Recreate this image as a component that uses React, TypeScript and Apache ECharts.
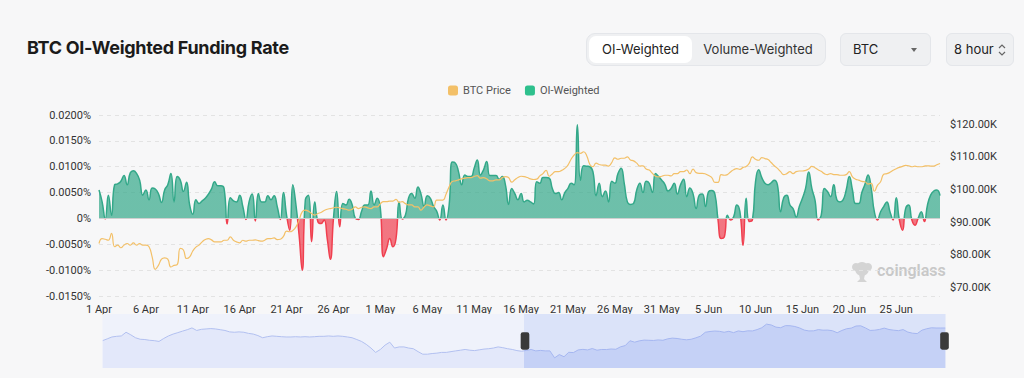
import React, { useEffect, useRef } from 'react';
import * as echarts from 'echarts';

// ---------- data ----------
const START_UTC = Date.UTC(2025, 3, 1); // 1 Apr 2025, 8-hour steps
const PREVIEW_START_UTC = Date.UTC(2025, 0, 1); // dataZoom overview, daily
const MONTHS = ['Jan', 'Feb', 'Mar', 'Apr', 'May', 'Jun', 'Jul', 'Aug', 'Sep', 'Oct', 'Nov', 'Dec'];

// OI-weighted funding rate (%), one value per 8 hours
const fundingRate = [
  0.0055, 0.0032, -0.0001, 0.0045, 0.0006, 0.0065, 0.0067, 0.0072, 0.0083, 0.0065,
  0.0088, 0.0092, 0.0087, 0.0074, 0.0045, 0.0055, 0.0036, 0.0059, 0.0057, 0.0048,
  0.0031, 0.0055, 0.0065, 0.0087, 0.0032, 0.0081, 0.0074, 0.0052, 0.0070, 0.0026,
  0.0008, 0.0036, 0.0029, 0.0034, 0.0039, 0.0047, 0.0057, 0.0071, 0.0063, 0.0063,
  0.0058, -0.0011, 0.0040, 0.0034, 0.0032, 0.0045, 0.0023, -0.0002, 0.0032, 0.0047,
  -0.0005, 0.0048, 0.0032, 0.0032, 0.0044, 0.0036, 0.0044, 0.0023, -0.0002, 0.0050,
  0.0006, -0.0023, 0.0065, 0.0026, -0.0032, -0.0100, 0.0036, 0.0045, -0.0045, 0.0032,
  -0.0006, -0.0010, -0.0003, -0.0039, -0.0079, 0.0000, 0.0052, -0.0016, 0.0029, 0.0026,
  0.0037, 0.0026, 0.0000, -0.0002, 0.0014, 0.0026, 0.0026, 0.0053, 0.0026, 0.0039,
  0.0019, -0.0074, -0.0058, -0.0039, -0.0055, -0.0039, 0.0032, -0.0001, 0.0006, 0.0039,
  0.0048, 0.0039, 0.0061, 0.0047, 0.0023, 0.0044, 0.0039, 0.0023, 0.0014, -0.0003,
  0.0026, -0.0003, 0.0026, 0.0109, 0.0107, 0.0090, 0.0065, 0.0084, 0.0081, 0.0081,
  0.0097, 0.0113, 0.0084, 0.0094, 0.0110, 0.0083, 0.0083, 0.0083, 0.0076, 0.0081,
  0.0065, 0.0027, 0.0058, 0.0048, 0.0036, 0.0048, 0.0032, 0.0035, 0.0032, 0.0028,
  0.0071, 0.0068, 0.0079, 0.0079, 0.0078, 0.0058, 0.0048, 0.0050, 0.0036, 0.0050,
  0.0058, 0.0068, 0.0065, 0.0181, 0.0074, 0.0102, 0.0101, 0.0100, 0.0090, 0.0044,
  0.0068, 0.0042, 0.0053, 0.0032, 0.0072, 0.0068, 0.0087, 0.0097, 0.0068, 0.0032,
  0.0027, 0.0029, 0.0055, 0.0068, 0.0050, 0.0072, 0.0068, 0.0050, 0.0087, 0.0081,
  0.0074, 0.0066, 0.0053, 0.0058, 0.0068, 0.0047, 0.0065, 0.0076, 0.0042, 0.0059,
  0.0048, 0.0019, 0.0045, 0.0047, 0.0023, 0.0052, 0.0054, 0.0047, -0.0003, -0.0039,
  -0.0036, 0.0006, -0.0003, 0.0003, 0.0026, 0.0013, -0.0052, 0.0039, -0.0006, -0.0003,
  0.0071, 0.0094, 0.0079, 0.0068, 0.0065, 0.0069, 0.0074, 0.0065, 0.0013, 0.0040,
  0.0045, 0.0026, 0.0019, 0.0003, 0.0023, 0.0039, 0.0058, 0.0090, 0.0058, 0.0036,
  -0.0003, 0.0006, 0.0058, 0.0052, 0.0042, 0.0065, 0.0036, 0.0032, 0.0036, 0.0055,
  0.0081, 0.0055, 0.0029, 0.0029, 0.0050, 0.0066, 0.0084, 0.0058, 0.0013, -0.0003,
  0.0013, 0.0023, 0.0032, 0.0013, -0.0003, 0.0040, -0.0003, -0.0023, 0.0019, 0.0026,
  -0.0003, -0.0013, 0.0000, 0.0013, -0.0006, 0.0026, 0.0045, 0.0053, 0.0055, 0.0044,
];

// BTC price in thousands of USD, one value per 8 hours
const btcPriceK = [
  83.5, 85.0, 84.8, 84.5, 86.6, 82.5, 83.0, 82.2, 83.0, 83.5,
  83.0, 83.7, 83.0, 83.5, 83.0, 83.0, 82.5, 79.4, 75.6, 76.8,
  78.7, 79.1, 78.7, 76.3, 76.8, 77.0, 82.0, 81.5, 78.9, 79.4,
  81.2, 82.4, 83.0, 84.0, 84.7, 85.0, 84.6, 84.0, 84.0, 84.0,
  84.5, 84.5, 85.5, 84.5, 84.0, 83.7, 84.5, 84.2, 84.5, 84.5,
  84.6, 84.4, 84.2, 84.5, 85.0, 85.0, 85.2, 84.7, 84.8, 85.7,
  87.3, 87.1, 87.5, 88.6, 90.7, 93.2, 93.7, 93.4, 92.7, 92.2,
  92.7, 93.0, 93.6, 94.0, 94.2, 94.4, 94.6, 94.4, 94.2, 94.0,
  93.7, 94.0, 94.7, 94.2, 94.6, 94.7, 94.4, 94.2, 94.7, 94.7,
  95.7, 96.3, 96.3, 96.5, 96.5, 97.0, 96.1, 96.3, 95.7, 95.3,
  95.3, 94.7, 94.7, 93.7, 94.7, 95.3, 95.0, 94.7, 96.8, 96.8,
  96.8, 98.6, 100.9, 102.5, 102.7, 103.0, 103.3, 103.5, 103.7, 103.7,
  104.0, 104.3, 103.5, 103.7, 103.3, 102.7, 102.7, 103.0, 103.0, 103.7,
  104.0, 103.7, 102.3, 103.0, 103.7, 104.1, 104.0, 103.7, 103.3, 103.1,
  103.2, 104.2, 104.9, 105.9, 104.1, 104.8, 105.5, 105.5, 105.9, 106.5,
  107.5, 109.3, 110.6, 111.3, 111.1, 111.6, 110.4, 107.7, 107.0, 108.1,
  107.7, 107.5, 107.5, 107.2, 108.3, 109.7, 109.3, 109.6, 109.6, 110.0,
  109.1, 108.8, 108.1, 107.2, 107.3, 106.3, 106.0, 105.0, 104.1, 103.9,
  104.1, 104.4, 104.4, 104.2, 104.9, 104.9, 105.5, 105.5, 106.0, 104.9,
  106.3, 105.2, 105.0, 105.0, 104.8, 104.3, 103.7, 102.2, 102.2, 104.6,
  104.4, 104.6, 105.4, 106.1, 106.4, 106.2, 106.8, 107.1, 108.1, 110.0,
  109.3, 109.0, 109.8, 109.5, 109.2, 108.3, 107.3, 106.5, 105.5, 104.6,
  104.9, 105.5, 104.9, 105.5, 105.7, 105.7, 105.9, 106.3, 107.1, 106.7,
  106.1, 105.6, 104.9, 104.6, 104.9, 104.6, 104.6, 104.4, 104.4, 104.6,
  105.5, 103.9, 103.2, 102.9, 102.5, 102.4, 101.7, 101.9, 99.5, 101.3,
  102.4, 104.7, 104.9, 105.3, 105.9, 106.4, 106.8, 107.1, 107.4, 107.3,
  107.0, 107.2, 107.0, 107.0, 107.2, 107.3, 107.2, 107.2, 107.6, 108.0,
];

// Daily BTC price (k USD) for 1 Jan – 31 Mar, shown only in the dataZoom overview
const btcPriceJanMarK = [
  93.8, 95.7, 97.7, 98.4, 98.8, 102.7, 100.0, 96.9, 95.3, 95.0,
  94.2, 93.8, 93.0, 96.1, 98.8, 100.8, 102.3, 103.9, 105.4, 107.3,
  104.6, 105.8, 106.2, 106.6, 106.2, 105.4, 104.6, 103.1, 102.7, 103.1,
  102.7, 101.5, 100.8, 99.2, 96.9, 98.0, 98.8, 98.4, 98.0, 97.7,
  97.7, 98.0, 97.7, 98.0, 97.7, 98.0, 98.4, 98.4, 98.8, 98.4,
  98.8, 98.4, 97.7, 96.9, 95.0, 93.0, 89.9, 86.0, 81.4, 84.5,
  89.1, 92.2, 86.0, 87.2, 87.2, 86.0, 85.3, 82.2, 79.5, 79.5,
  80.2, 80.6, 81.4, 81.4, 82.2, 83.0, 83.7, 84.5, 83.7, 83.3,
  84.1, 84.9, 85.3, 86.0, 87.2, 86.4, 85.3, 84.5, 83.3, 82.6,
];

const fundingTicks = { min: -0.015, max: 0.02, interval: 0.005 };
const priceAxisRangeK = { min: 67.42, max: 122.85 };

// ---------- derived categories ----------
function label(ms: number, withHour: boolean) {
  const d = new Date(ms);
  const base = `${d.getUTCDate()} ${MONTHS[d.getUTCMonth()]}`;
  return withHour ? `${base} ${String(d.getUTCHours()).padStart(2, '0')}:00` : base;
}
const categories = fundingRate.map((_, i) => label(START_UTC + i * 8 * 3600 * 1000, true));
const aprJunDailyK = btcPriceK.filter((_, i) => i % 3 === 0);
const previewData = [...btcPriceJanMarK, ...aprJunDailyK];
const previewCategories = previewData.map((_, i) => label(PREVIEW_START_UTC + i * 24 * 3600 * 1000, false));

// ---------- styles ----------
const BG = '#f7f7f8';
const GREEN = '#33a889';
const RED = '#f03f4f';
const ORANGE = '#f3c068';
const LEGEND_GREEN = '#2ec08d';
const AXIS_FONT = 'Roboto, "Noto Sans", sans-serif';

function buildOption(): any {
  return {
    animation: false,
    backgroundColor: 'transparent',
    legend: {
      data: ['BTC Price', 'OI-Weighted'],
      top: 80,
      left: 443,
      itemWidth: 10,
      itemHeight: 10,
      itemGap: 14,
      icon: 'roundRect',
      textStyle: { color: '#555', fontSize: 11, fontFamily: AXIS_FONT },
    },
    grid: { left: 99, right: 84, top: 115, bottom: 82 },
    xAxis: [
      {
        type: 'category',
        data: categories,
        boundaryGap: false,
        axisLine: { show: false },
        axisTick: { show: false },
        splitLine: { show: false },
        axisLabel: {
          interval: 14,
          color: '#333',
          fontSize: 11,
          fontFamily: AXIS_FONT,
          margin: 8,
          formatter: (v: string) => v.split(' ').slice(0, 2).join(' '),
        },
      },
      { type: 'category', data: previewCategories, show: false, boundaryGap: false },
    ],
    yAxis: [
      {
        type: 'value',
        position: 'left',
        min: fundingTicks.min,
        max: fundingTicks.max,
        interval: fundingTicks.interval,
        axisLine: { show: false },
        axisTick: { show: false },
        splitLine: { lineStyle: { color: '#e3e3e3', type: [4, 4] } },
        axisLabel: {
          color: '#333',
          fontSize: 11,
          fontFamily: AXIS_FONT,
          margin: 8,
          formatter: (v: number) => (Math.abs(v) < 1e-9 ? '0%' : v.toFixed(4) + '%'),
        },
      },
      {
        type: 'value',
        position: 'right',
        min: priceAxisRangeK.min,
        max: priceAxisRangeK.max,
        axisLine: { show: false },
        axisTick: { show: false },
        splitLine: { show: false },
        axisLabel: {
          color: '#333',
          fontSize: 11,
          fontFamily: AXIS_FONT,
          margin: 10,
          formatter: (v: number) =>
            Math.abs(v / 10 - Math.round(v / 10)) > 0.001 ? '' : '$' + v.toFixed(2) + 'K',
        },
      },
      { type: 'value', show: false, scale: true, splitLine: { show: false } },
    ],
    visualMap: {
      type: 'piecewise',
      show: false,
      seriesIndex: 1,
      dimension: 1,
      pieces: [
        { gt: 0, lte: 1, color: GREEN },
        { gt: -1, lte: 0, color: RED },
      ],
      outOfRange: { color: GREEN },
    },
    dataZoom: [
      {
        type: 'slider',
        xAxisIndex: 1,
        start: 50,
        end: 100,
        left: 100,
        right: 81,
        top: 314,
        height: 54,
        showDetail: false,
        brushSelect: false,
        moveHandleSize: 0,
        borderColor: 'transparent',
        backgroundColor: '#eff2fb',
        fillerColor: 'rgba(150,172,242,0.22)',
        dataBackground: {
          lineStyle: { color: '#b2c0f0', width: 1, opacity: 1 },
          areaStyle: { color: '#e3e8fa', opacity: 1 },
        },
        selectedDataBackground: {
          lineStyle: { color: '#a9b9f0', width: 1, opacity: 1 },
          areaStyle: { color: '#d3dcf8', opacity: 1 },
        },
        handleIcon:
          'path://M2,0 L6,0 Q8,0 8,2 L8,14 Q8,16 6,16 L2,16 Q0,16 0,14 L0,2 Q0,0 2,0 Z',
        handleSize: '32%',
        handleStyle: { color: '#3a3a3a', borderColor: '#3a3a3a', borderWidth: 0 },
        moveHandleStyle: { opacity: 0 },
      },
    ],
    graphic: [
      {
        type: 'group',
        left: 852,
        top: 262,
        silent: true,
        children: [
          { type: 'circle', shape: { cx: 10, cy: 7, r: 7 }, style: { fill: '#d4d4d4' } },
          { type: 'circle', shape: { cx: 4, cy: 5, r: 4 }, style: { fill: '#d4d4d4' } },
          { type: 'circle', shape: { cx: 16, cy: 5, r: 4 }, style: { fill: '#d4d4d4' } },
          {
            type: 'polygon',
            shape: { points: [[7, 12], [13, 12], [12, 17], [15, 20], [5, 20], [8, 17]] },
            style: { fill: '#d4d4d4' },
          },
        ],
      },
      {
        type: 'text',
        left: 877,
        top: 262,
        silent: true,
        style: { text: 'coinglass', fill: '#c8c8c8', font: '600 16px Roboto, sans-serif' },
      },
    ],
    series: [
      {
        name: 'BTC Price',
        type: 'line',
        yAxisIndex: 1,
        data: btcPriceK,
        smooth: true,
        symbol: 'none',
        lineStyle: { color: ORANGE, width: 1.2 },
        itemStyle: { color: ORANGE },
        z: 4,
      },
      {
        name: 'OI-Weighted',
        type: 'line',
        yAxisIndex: 0,
        data: fundingRate,
        smooth: true,
        symbol: 'none',
        lineStyle: { width: 1.5 },
        areaStyle: { opacity: 0.7 },
        itemStyle: { color: LEGEND_GREEN },
        z: 2,
        markLine: {
          silent: true,
          symbol: 'none',
          label: { show: false },
          lineStyle: { color: '#cfcfcf', type: 'solid', width: 1 },
          data: [{ yAxis: 0 }],
        },
      },
      {
        name: 'overview',
        type: 'line',
        xAxisIndex: 1,
        yAxisIndex: 2,
        data: previewData,
        symbol: 'none',
        silent: true,
        lineStyle: { opacity: 0 },
        z: 0,
      },
    ],
  };
}

const boxBase: React.CSSProperties = {
  position: 'absolute',
  boxSizing: 'border-box',
  background: '#eff0f2',
  border: '1px solid #e4e6ea',
  height: 33,
  top: 33,
  fontSize: 13,
  color: '#222',
  fontFamily: 'Inter, Roboto, sans-serif',
};

export default function App() {
  const ref = useRef<HTMLDivElement>(null);
  useEffect(() => {
    if (!ref.current) return;
    const chart = echarts.init(ref.current, null, { renderer: 'svg' });
    chart.setOption(buildOption());
    return () => chart.dispose();
  }, []);

  return (
    <div
      style={{
        position: 'fixed',
        left: 0,
        top: 0,
        width: 1024,
        height: 378,
        background: BG,
        overflow: 'hidden',
        fontFamily: 'Inter, Roboto, sans-serif',
      }}
    >
      <div ref={ref} style={{ position: 'absolute', left: 0, top: 0, width: 1024, height: 378 }} />
      <div
        style={{
          position: 'absolute',
          left: 27,
          top: 37,
          fontSize: 18,
          fontWeight: 700,
          lineHeight: '22px',
          letterSpacing: -0.3,
          color: '#1b1b1b',
          whiteSpace: 'nowrap',
        }}
      >
        BTC OI-Weighted Funding Rate
      </div>

      <div style={{ ...boxBase, left: 586, width: 240, borderRadius: 9 }}>
        <div
          style={{
            position: 'absolute',
            left: 2,
            top: 2,
            width: 103,
            height: 27,
            background: '#fff',
            borderRadius: 7,
            lineHeight: '27px',
            textAlign: 'center',
          }}
        >
          OI-Weighted
        </div>
        <div
          style={{
            position: 'absolute',
            left: 106,
            top: 2,
            width: 130,
            height: 27,
            lineHeight: '27px',
            textAlign: 'center',
            color: '#333',
          }}
        >
          Volume-Weighted
        </div>
      </div>

      <div style={{ ...boxBase, left: 840, width: 91, borderRadius: 6 }}>
        <div style={{ position: 'absolute', left: 12, top: 0, lineHeight: '31px' }}>BTC</div>
        <div
          style={{
            position: 'absolute',
            left: 70,
            top: 14,
            width: 0,
            height: 0,
            borderLeft: '3.5px solid transparent',
            borderRight: '3.5px solid transparent',
            borderTop: '4px solid #666',
          }}
        />
      </div>

      <div style={{ ...boxBase, left: 946, width: 68, borderRadius: 6 }}>
        <div style={{ position: 'absolute', left: 7, top: 0, lineHeight: '31px' }}>8 hour</div>
        <svg
          width="8"
          height="14"
          viewBox="0 0 8 14"
          style={{ position: 'absolute', left: 51, top: 9 }}
        >
          <polyline points="1,5 4,2 7,5" fill="none" stroke="#666" strokeWidth="1.2" />
          <polyline points="1,9 4,12 7,9" fill="none" stroke="#666" strokeWidth="1.2" />
        </svg>
      </div>
    </div>
  );
}
